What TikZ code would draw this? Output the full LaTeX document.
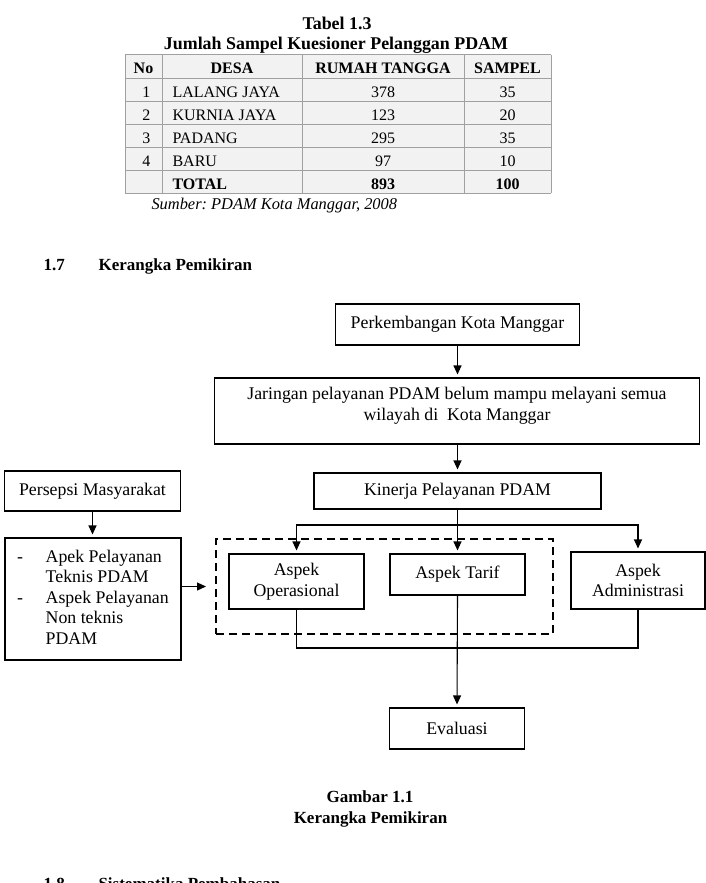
\documentclass[tikz,border=0pt]{standalone}
\usepackage{fontspec}
\setmainfont{Liberation Serif}
\usetikzlibrary{arrows.meta}
\frenchspacing
\newcommand\boxfont{\fontsize{17.8}{20.5}\selectfont}
\newcommand\tabfont{\fontsize{16}{19}\selectfont}
\newcommand\judulfont{\fontsize{17.9}{21}\selectfont\bfseries}
\newcommand\babfont{\fontsize{17}{20}\selectfont\bfseries}
\definecolor{selabu}{HTML}{F2F2F2}
\definecolor{garisabu}{HTML}{A0A0A0}

\begin{document}
\begin{tikzpicture}[x=1pt,y=-1pt,
  blok/.style={draw,line width=1.1pt,font=\boxfont,inner sep=0pt,align=center},
  panah/.style={line width=1.1pt,-{Triangle[length=9pt,width=8pt]},shorten >=3pt},
  garis/.style={line width=1.1pt},
  bingkai/.style={draw,line width=2pt,dash pattern=on 8pt off 5pt,inner sep=0pt}]
\useasboundingbox (0,0) rectangle (705,883);

% tabel 1.3
\node[font=\judulfont,anchor=base] (tabel) at (337,29.5) {Tabel 1.3};
\node[font=\judulfont,anchor=base] (judul) at (336,50) {Jumlah Sampel Kuesioner Pelanggan PDAM};
\fill[selabu] (125,55) rectangle (551,193);
\foreach \y in {55,78,101,124,147,170,193}
  \draw[garisabu,line width=1pt] (125,\y) -- (551,\y);
\foreach \x in {125,162,302,464,551}
  \draw[garisabu,line width=1pt] (\x,55) -- (\x,193);
\node[font=\tabfont\bfseries,anchor=base] (hno) at (143.5,74) {No};
\node[font=\tabfont\bfseries,anchor=base] (hdesa) at (232,74) {DESA};
\node[font=\tabfont\bfseries,anchor=base] (hrt) at (383,74) {RUMAH TANGGA};
\node[font=\tabfont\bfseries,anchor=base] (hsmp) at (507.5,74) {SAMPEL};
\foreach \n/\desa/\rt/\smp [count=\i] in {1/LALANG JAYA/378/35,2/KURNIA JAYA/123/20,3/PADANG/295/35,4/BARU/97/10} {
  \node[font=\tabfont,anchor=base east] (no\i) at (154,{74+23*\i}) {\n};
  \node[font=\tabfont,anchor=base west] (desa\i) at (169,{74+23*\i}) {\desa};
  \node[font=\tabfont,anchor=base] (rt\i) at (383,{74+23*\i}) {\rt};
  \node[font=\tabfont,anchor=base] (smp\i) at (507.5,{74+23*\i}) {\smp};
}
\node[font=\tabfont\bfseries,anchor=base west] (total) at (169,189) {TOTAL};
\node[font=\tabfont\bfseries,anchor=base] (rttotal) at (383,189) {893};
\node[font=\tabfont\bfseries,anchor=base] (smptotal) at (507.5,189) {100};
\node[font=\fontsize{16.4}{19}\selectfont\itshape,anchor=base west] (sumber) at (148,209.3) {Sumber: PDAM Kota Manggar, 2008};

% 1.7 kerangka pemikiran
\node[font=\babfont,anchor=base west] (no17) at (40,270.7) {1.7};
\node[font=\babfont,anchor=base west] (bab17) at (95,270.7) {Kerangka Pemikiran};

\node[blok,minimum width=244pt,minimum height=41pt] (perk) at (457.5,324.5) {Perkembangan Kota Manggar};
\node[blok,minimum width=485pt,minimum height=66pt] (jar) at (457,411)
  {Jaringan pelayanan PDAM belum mampu melayani semua\\wilayah di\ \ Kota Manggar\\[-6.5pt]\mbox{}};
\node[blok,minimum width=287pt,minimum height=36pt] (kin) at (457.5,491) {Kinerja Pelayanan PDAM};
\node[blok,minimum width=176pt,minimum height=40pt] (pers) at (92.5,491) {Persepsi Masyarakat};
\node[blok,minimum width=176pt,minimum height=122pt] (apek) at (93,599)
  {\begin{tabular}{@{}p{28.5pt}@{}l@{}}
   - & Apek Pelayanan\\
     & Teknis PDAM\\
   - & Aspek Pelayanan\\
     & Non teknis\\
     & PDAM
   \end{tabular}};
\node[bingkai,minimum width=337pt,minimum height=95pt] (grup) at (384.5,586.5) {};
\node[blok,minimum width=135pt,minimum height=55pt] (ops) at (296.5,581.5) {Aspek\\Operasional};
\node[blok,minimum width=135pt,minimum height=41pt] (tarif) at (457.5,574.5) {Aspek Tarif};
\node[blok,minimum width=134pt,minimum height=57pt] (adm) at (638,580.5) {Aspek\\Administrasi};
\node[blok,minimum width=135pt,minimum height=41pt] (eval) at (457,728.5) {Evaluasi};

\coordinate (cab) at (457.5,525);
\coordinate (gab) at (457.5,648);

\draw[panah] (perk.south) -- (perk.south |- jar.north);
\draw[panah] (jar.south -| kin.north) -- (kin.north);
\draw[panah] (pers.south) -- (pers.south |- apek.north);
\draw[panah] (apek.east |- grup.west) -- ([xshift=-6pt]grup.west);
\draw[panah] (kin.south) -- (tarif.north);
\draw[panah] (cab) -| (ops.north);
\draw[panah] (cab) -| (adm.north);
\draw[garis] (ops.south) |- (gab) -| (adm.south);
\draw[panah] (tarif.south) -- (eval.north);

\node[font=\babfont,anchor=base] (gambar) at (370,802.7) {Gambar 1.1};
\node[font=\babfont,anchor=base] (kerangka) at (370.5,823) {Kerangka Pemikiran};

% 1.8 (terpotong di tepi bawah)
\node[font=\babfont,anchor=base west] (no18) at (40,889.5) {1.8};
\node[font=\babfont,anchor=base west] (bab18) at (95,889.5) {Sistematika Pembahasan};
\end{tikzpicture}
\end{document}
